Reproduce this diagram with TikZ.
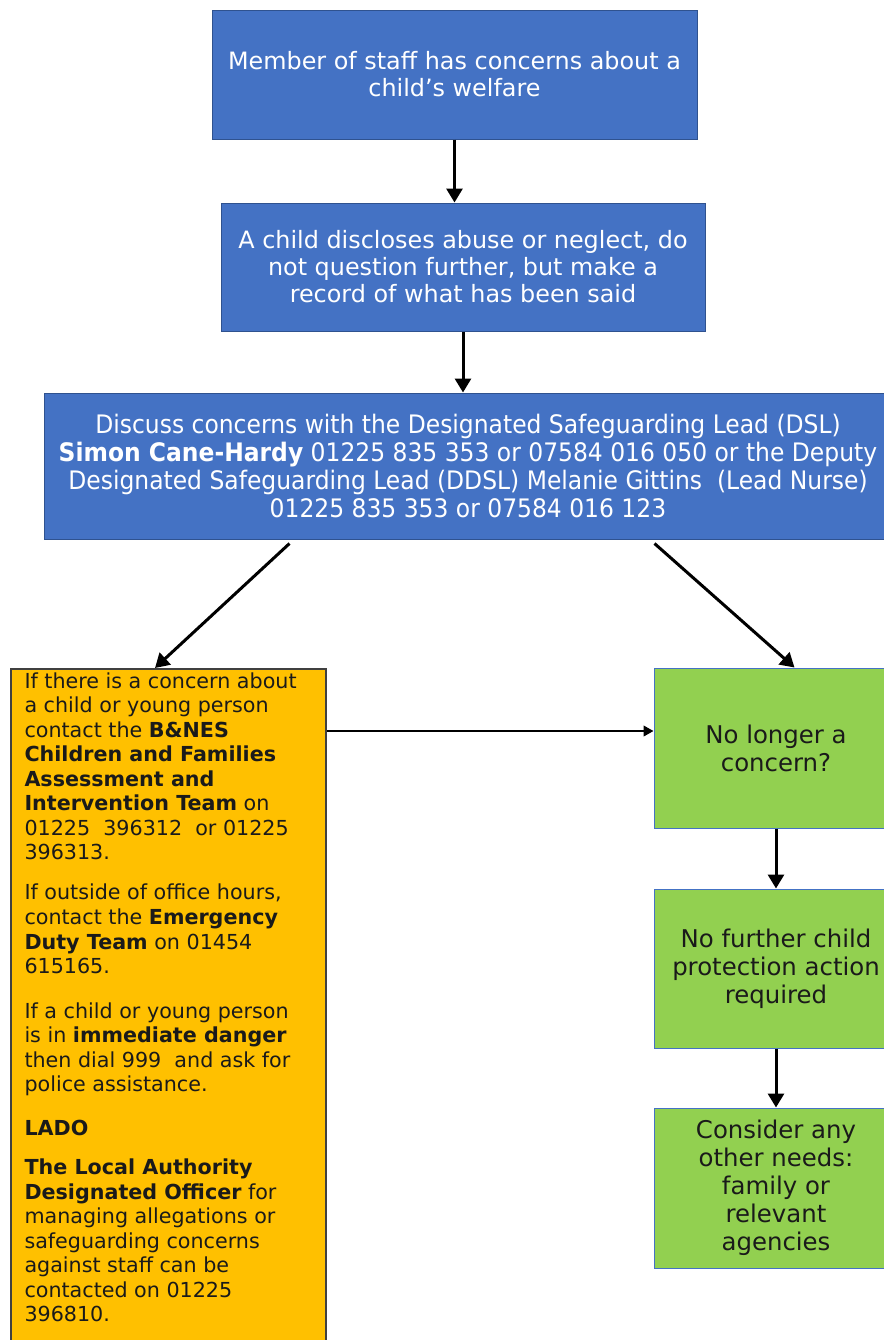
\documentclass[tikz,border=0pt]{standalone}
\usepackage{fontspec}
\setmainfont{DejaVu Sans}
\newfontfamily\narrowfont[FakeStretch=0.92]{DejaVu Sans}
\usetikzlibrary{arrows.meta}

\tikzset{every picture/.style={line width=0.75pt}}
\tikzset{
  bluebox/.style={draw={rgb, 255:red, 47; green, 82; blue, 143 }, fill={rgb, 255:red, 68; green, 114; blue, 196 }, text=white, align=center, inner sep=0.75pt, font=\fontsize{17.9}{20.25}\selectfont},
  greenbox/.style={draw={rgb, 255:red, 68; green, 114; blue, 196 }, fill={rgb, 255:red, 146; green, 208; blue, 80 }, text={rgb, 255:red, 26; green, 26; blue, 26 }, align=center, inner sep=0.75pt, minimum width=183pt, font=\fontsize{18.3}{21}\selectfont},
  orangebox/.style={draw={rgb, 255:red, 64; green, 64; blue, 64 }, line width=1.5, fill={rgb, 255:red, 255; green, 192; blue, 0 }, inner sep=0pt},
  otext/.style={text={rgb, 255:red, 26; green, 26; blue, 26 }, align=left, inner sep=0.75pt, font=\fontsize{15.5}{18.4}\selectfont},
  arrowline/.style={line width=2.25, -{Triangle[length=10.5pt,width=12pt]}},
  thinarrow/.style={line width=1.5, -{Triangle[length=7.5pt,width=8pt]}}
}

\begin{document}
\begin{tikzpicture}[x=0.75pt,y=0.75pt,yscale=-1,xscale=1]
\useasboundingbox (0,0) rectangle (883,1340);

%Shape: Rectangle [id:member]
\node [bluebox, minimum width=363.75pt, minimum height=96.75pt] (member) at (454.5,74.5) {Member of staff has concerns about a\\child's welfare};
%Shape: Rectangle [id:disclose]
\node [bluebox, minimum width=363pt, minimum height=96pt] (disclose) at (463,267) {A child discloses abuse or neglect, do\\not question further, but make a\\record of what has been said};
%Shape: Rectangle [id:discuss]
\node [bluebox, minimum width=636pt, minimum height=109.5pt, font=\narrowfont\fontsize{19.1}{21}\selectfont] (discuss) at (468,466) {Discuss concerns with the Designated Safeguarding Lead (DSL)\\\textbf{Simon Cane-Hardy} 01225 835 353 or 07584 016 050 or the Deputy\\Designated Safeguarding Lead (DDSL) Melanie Gittins\ \ (Lead Nurse)\\01225 835 353 or 07584 016 123};

%Shape: Rectangle [id:contact]
\node [orangebox, anchor=north west, minimum width=236.25pt, minimum height=511.5pt] (contact) at (10,668) {};
% Text Node
\node [otext, anchor=north west] (contacttext) at (23,671) {If there is a concern about\\a child or young person\\contact the \textbf{B\&NES}\\\textbf{Children and Families}\\\textbf{Assessment and}\\\textbf{Intervention Team} on\\01225\ \ 396312\ \ or 01225\\396313.\\[11.6pt]If outside of office hours,\\contact the \textbf{Emergency}\\\textbf{Duty Team} on 01454\\615165.\\[15pt]If a child or young person\\is in \textbf{immediate danger}\\then dial 999\ \ and ask for\\police assistance.\\[14.6pt]\textbf{LADO}\\[10.9pt]\textbf{The Local Authority}\\\textbf{Designated Officer} for\\managing allegations or\\safeguarding concerns\\against staff can be\\contacted on 01225\\396810.};

%Shape: Rectangle [id:nolonger]
\node [greenbox, minimum height=120pt] (nolonger) at (776,748) {No longer a\\concern?};
%Shape: Rectangle [id:noaction]
\node [greenbox, minimum height=119.25pt] (noaction) at (776,968.5) {No further child\\protection action\\required};
%Shape: Rectangle [id:needs]
\node [greenbox, minimum height=120pt] (needs) at (776,1188) {Consider any\\other needs:\\family or\\relevant\\agencies};

%Straight Lines
\draw [arrowline] (member.south) -- (member.south |- disclose.north);
\draw [arrowline] (disclose.south) -- (disclose.south |- discuss.north);
\draw [arrowline] ([xshift=184.5pt,yshift=3pt]discuss.south west) -- ([xshift=108.75pt]contact.north west);
\draw [arrowline] ([xshift=458.25pt,yshift=3pt]discuss.south west) -- ([xshift=105.75pt]nolonger.north west);
\coordinate (side) at ([yshift=47.25pt]contact.north east);
\draw [thinarrow] (side) -- (side -| nolonger.west);
\draw [arrowline] (nolonger.south) -- (noaction.north);
\draw [arrowline] (noaction.south) -- (needs.north);

\end{tikzpicture}
\end{document}
